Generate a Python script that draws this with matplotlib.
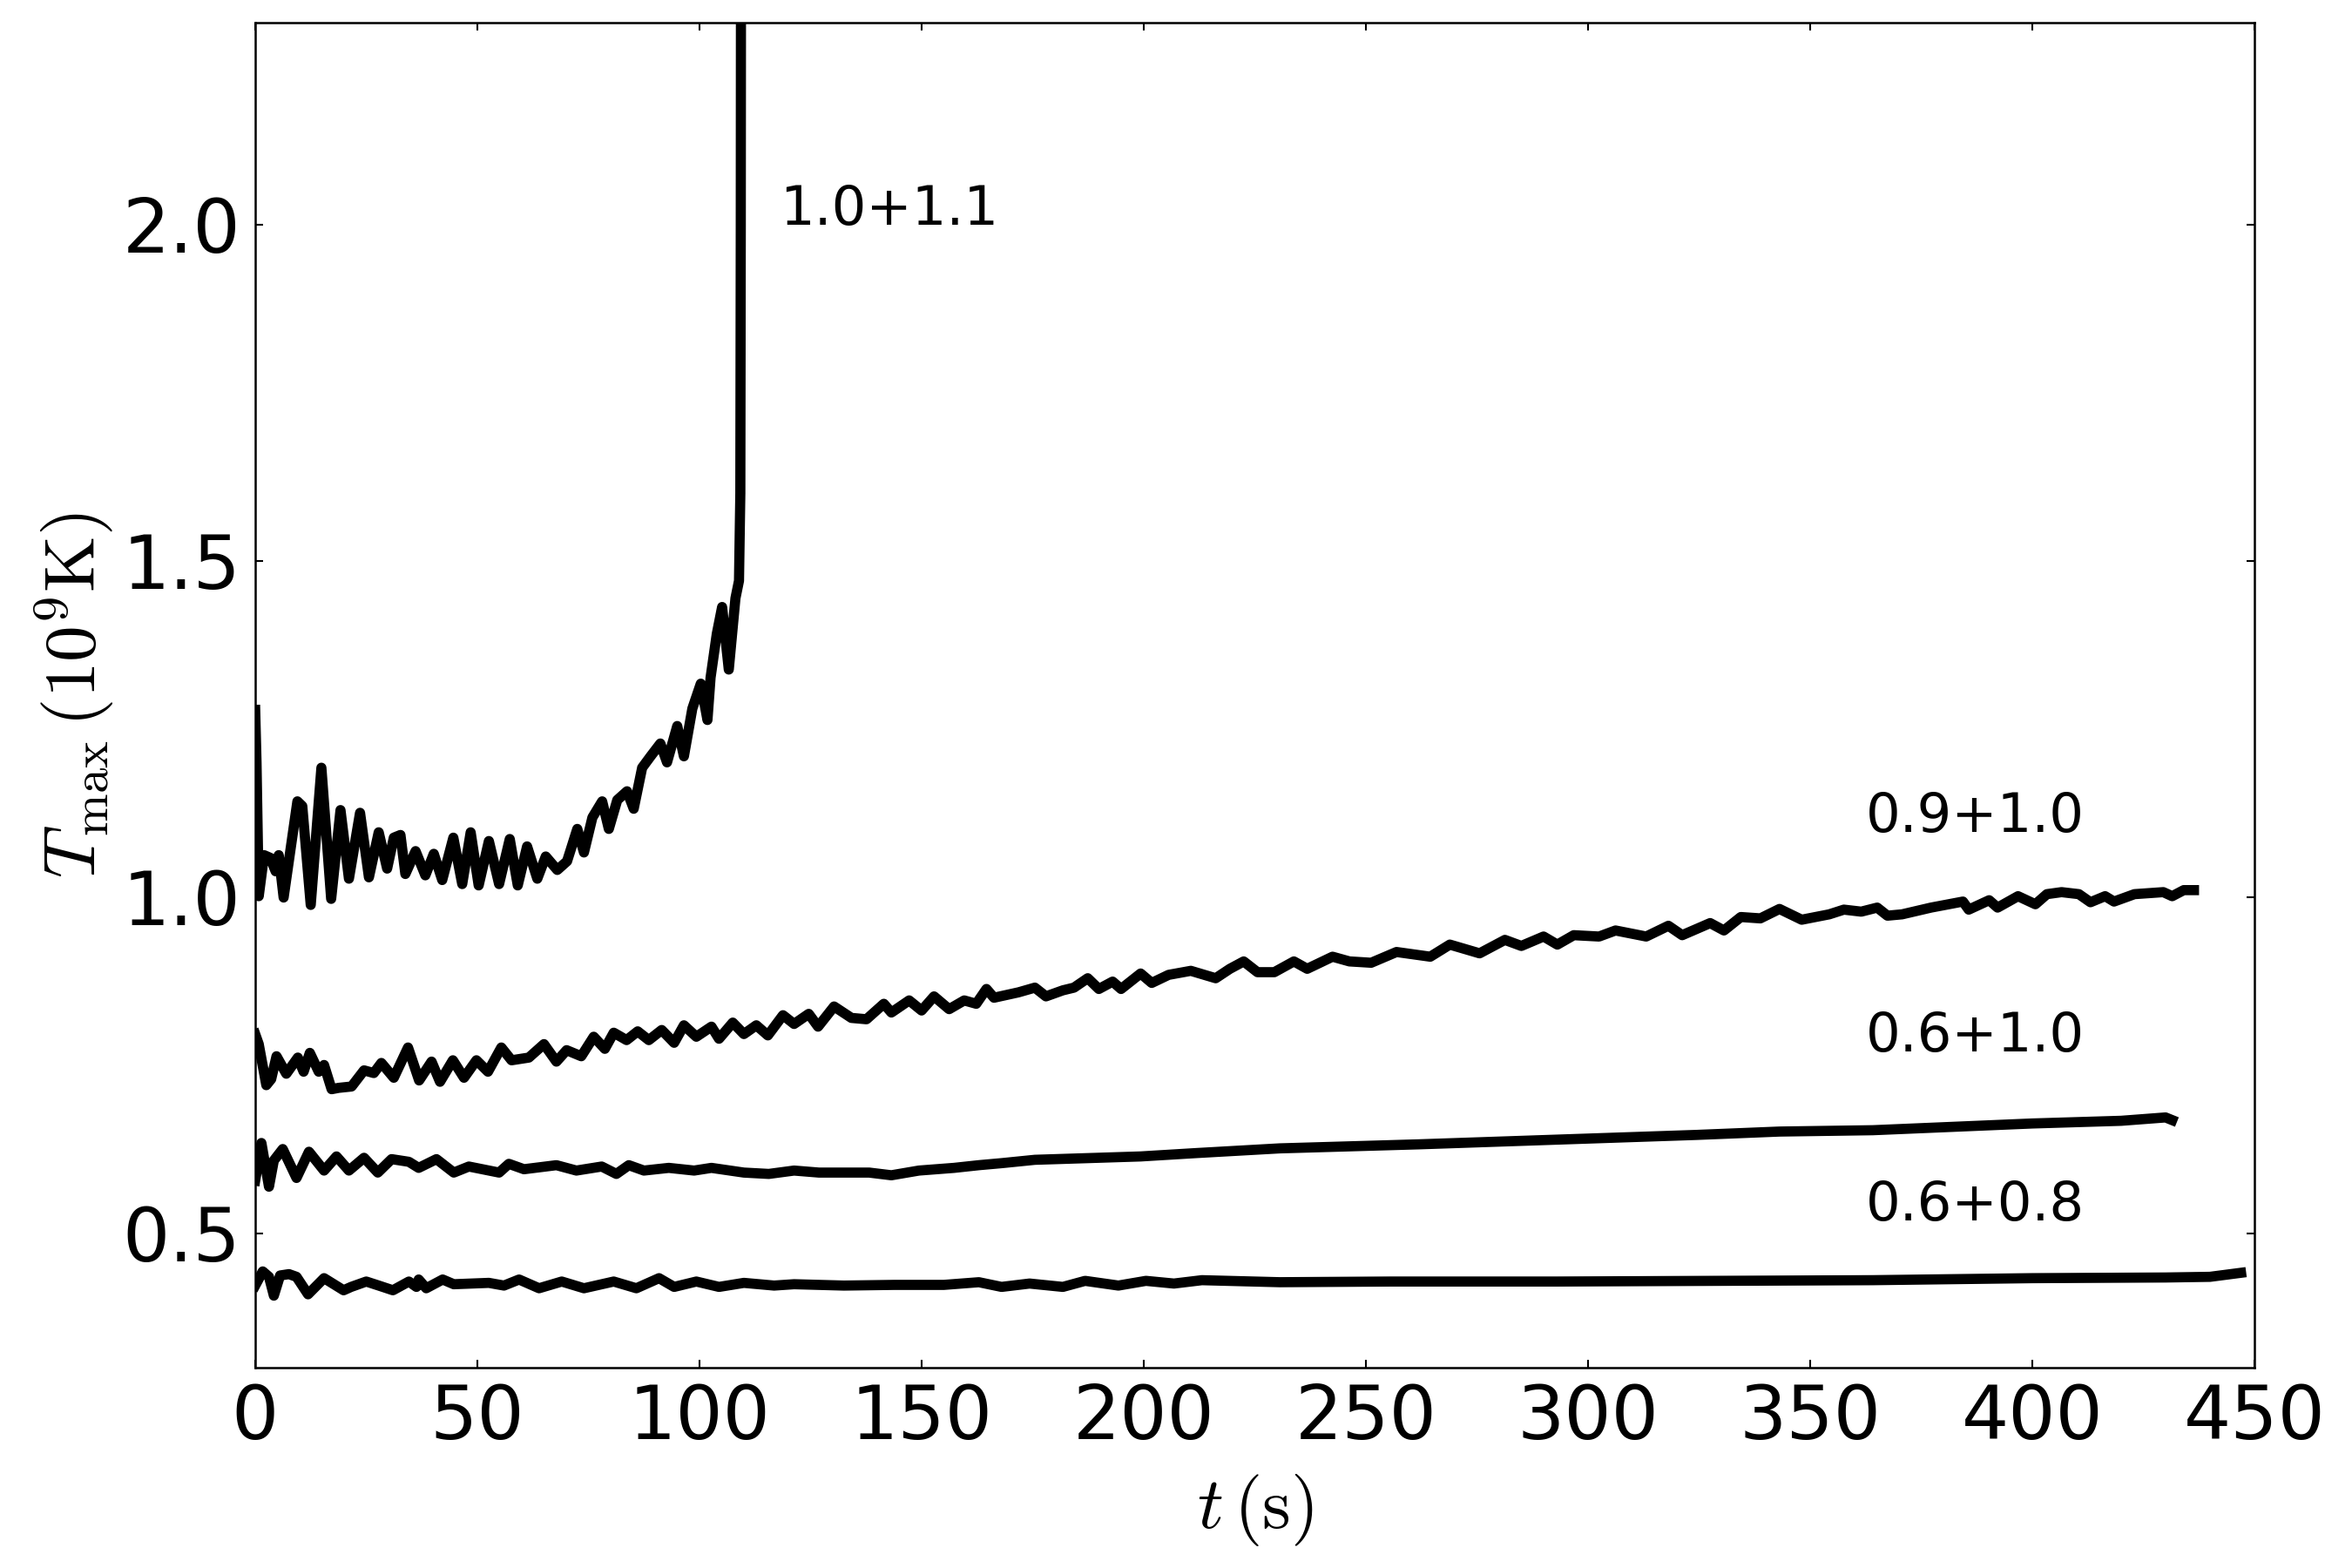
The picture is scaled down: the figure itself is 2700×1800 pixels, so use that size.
import matplotlib
matplotlib.use('Agg')
import matplotlib.pyplot as plt

plt.rcParams['font.family'] = ['DejaVu Sans']
plt.rcParams['mathtext.fontset'] = 'cm'

# T_max (1e9 K) vs t (s)
# 1.0+1.1 : runs away at ~109 s
t_a = [0.0, 0.3, 0.8, 2.0, 3.4, 4.6, 5.3, 6.4, 9.5, 10.6,
       12.5, 14.9, 17.1, 19.2, 21.1, 23.6, 25.6, 27.8, 29.7, 31.2,
       32.7, 33.8, 36.1, 38.3, 40.2, 42.1, 44.6, 46.6, 48.5, 50.3,
       52.6, 54.9, 57.3, 59.1, 61.2, 63.5, 65.4, 68.0, 70.2, 72.5,
       74.0, 75.9, 78.1, 79.6, 81.5, 83.7, 85.2, 87.1, 89.0, 91.2,
       92.7, 95.0, 96.5, 98.4, 100.3, 101.8, 102.5, 103.9, 105.1, 106.6,
       108.1, 108.9, 109.2, 109.3, 109.35]
T_a = [1.278, 1.20, 1.001, 1.062, 1.058, 1.038, 1.062, 0.999, 1.142, 1.135,
       0.988, 1.192, 0.997, 1.129, 1.027, 1.125, 1.029, 1.096, 1.042, 1.088,
       1.092, 1.034, 1.068, 1.032, 1.064, 1.025, 1.088, 1.019, 1.096, 1.017,
       1.083, 1.019, 1.086, 1.017, 1.075, 1.027, 1.060, 1.040, 1.053, 1.101,
       1.066, 1.118, 1.142, 1.101, 1.144, 1.157, 1.131, 1.192, 1.209, 1.228,
       1.200, 1.254, 1.209, 1.280, 1.317, 1.263, 1.326, 1.391, 1.431, 1.338,
       1.444, 1.470, 1.60, 2.00, 2.40]

# 0.9+1.0
t_b = [0, 0.8, 2.5, 3.6, 4.8, 7.0, 9.6, 10.9, 12.3, 14.3,
       15.5, 17.2, 18.8, 21.7, 24.5, 26.7, 28.4, 31.2, 34.4, 36.9,
       39.7, 41.6, 44.5, 47.0, 49.8, 52.4, 55.4, 57.7, 61.6, 65.0,
       67.8, 70.1, 73.4, 76.2, 78.7, 80.7, 83.6, 86.1, 88.6, 91.5,
       94.3, 96.5, 99.3, 102.7, 104.4, 107.5, 110.0, 112.8, 115.4, 118.8,
       121.3, 124.6, 126.7, 130.3, 134.2, 137.6, 141.5, 143.2, 147.2, 150.0,
       152.8, 156.2, 159.6, 162.3, 164.6, 166.3, 171.8, 175.5, 178.0, 181.8,
       184.3, 187.4, 189.9, 193.0, 194.9, 199.3, 201.8, 205.6, 210.6, 216.2,
       219.4, 222.5, 225.6, 229.4, 233.8, 236.8, 242.5, 246.3, 251.2, 256.9,
       264.5, 268.9, 275.6, 281.3, 285.0, 290.0, 293.1, 296.8, 302.5, 306.2,
       313.1, 318.1, 321.2, 327.5, 330.6, 334.4, 338.8, 343.1, 348.1, 354.3,
       357.6, 361.5, 365.1, 367.4, 370.7, 377.2, 384.4, 385.7, 390.3, 392.2,
       396.8, 400.7, 403.3, 406.6, 410.5, 413.1, 416.4, 418.4, 423.0, 429.5,
       431.5, 434.1, 436.4]
T_b = [0.796, 0.781, 0.720, 0.729, 0.763, 0.737, 0.761, 0.740, 0.768, 0.740,
       0.750, 0.714, 0.716, 0.718, 0.742, 0.738, 0.753, 0.731, 0.776, 0.727,
       0.755, 0.725, 0.757, 0.731, 0.757, 0.740, 0.776, 0.757, 0.761, 0.781,
       0.755, 0.772, 0.763, 0.792, 0.774, 0.798, 0.787, 0.800, 0.787, 0.802,
       0.783, 0.809, 0.792, 0.807, 0.789, 0.813, 0.796, 0.809, 0.794, 0.824,
       0.811, 0.826, 0.807, 0.837, 0.820, 0.818, 0.841, 0.828, 0.846, 0.831,
       0.852, 0.833, 0.846, 0.841, 0.863, 0.850, 0.858, 0.865, 0.852, 0.861,
       0.865, 0.879, 0.863, 0.874, 0.863, 0.886, 0.872, 0.884, 0.890, 0.879,
       0.893, 0.904, 0.888, 0.888, 0.904, 0.893, 0.911, 0.904, 0.902, 0.918,
       0.911, 0.929, 0.916, 0.936, 0.927, 0.941, 0.929, 0.943, 0.941, 0.950,
       0.941, 0.957, 0.943, 0.961, 0.950, 0.970, 0.968, 0.982, 0.966, 0.974,
       0.981, 0.978, 0.984, 0.972, 0.974, 0.984, 0.993, 0.981, 0.995, 0.984,
       1.001, 0.989, 1.004, 1.007, 1.004, 0.992, 1.001, 0.993, 1.004, 1.007,
       1.001, 1.010, 1.010]

# 0.6+1.0
t_c = [0, 1.4, 3.1, 4.2, 6.2, 9.3, 12.1, 15.5, 18.3, 21.1,
       24.5, 27.6, 30.7, 34.6, 36.8, 40.8, 44.7, 48.1, 54.9, 57.1,
       60.5, 67.8, 72.3, 78.0, 81.3, 84.1, 87.5, 93.1, 98.8, 102.7,
       110.0, 115.6, 121.3, 126.9, 132.5, 138.2, 143.2, 149.4, 157.3, 162.9,
       168.0, 175.5, 199.3, 211.8, 230.6, 261.9, 293.1, 324.4, 343.1, 364.1,
       400.0, 420.0, 430.0, 431.5]
T_c = [0.578, 0.634, 0.569, 0.608, 0.625, 0.582, 0.621, 0.593, 0.614, 0.593,
       0.612, 0.590, 0.610, 0.606, 0.597, 0.610, 0.590, 0.599, 0.590, 0.603,
       0.595, 0.601, 0.593, 0.599, 0.588, 0.601, 0.593, 0.597, 0.593, 0.597,
       0.590, 0.588, 0.593, 0.590, 0.590, 0.590, 0.586, 0.593, 0.597, 0.601,
       0.604, 0.609, 0.614, 0.619, 0.626, 0.632, 0.639, 0.646, 0.651, 0.653,
       0.663, 0.667, 0.672, 0.668]

# 0.6+0.8
t_d = [0, 1.7, 3.1, 4.2, 5.6, 7.6, 9.3, 11.9, 15.5, 17.7,
       19.9, 21.6, 25.0, 27.8, 31.0, 34.6, 36.3, 36.8, 38.5, 42.2,
       44.7, 52.6, 56.0, 59.4, 63.9, 69.0, 74.0, 80.7, 85.8, 90.9,
       94.3, 99.3, 104.4, 110.0, 116.8, 121.3, 132.5, 143.8, 155.0, 162.9,
       168.0, 174.3, 181.8, 186.8, 194.3, 200.5, 206.8, 213.1, 230.6, 255.6,
       293.1, 364.1, 400.0, 430.0, 440.0, 447.0]
T_d = [0.422, 0.443, 0.435, 0.407, 0.437, 0.439, 0.435, 0.409, 0.433, 0.424,
       0.415, 0.420, 0.428, 0.422, 0.415, 0.428, 0.420, 0.431, 0.418, 0.431,
       0.424, 0.426, 0.422, 0.431, 0.418, 0.428, 0.418, 0.428, 0.418, 0.433,
       0.420, 0.428, 0.420, 0.426, 0.422, 0.424, 0.422, 0.423, 0.423, 0.427,
       0.420, 0.425, 0.420, 0.429, 0.422, 0.429, 0.425, 0.430, 0.427, 0.428,
       0.428, 0.430, 0.433, 0.434, 0.435, 0.441]

labels = ['1.0+1.1', '0.9+1.0', '0.6+1.0', '0.6+0.8']
label_t = [118, 362.5, 362.5, 362.5]
label_T = [2.0, 1.096, 0.770, 0.519]

fig = plt.figure(figsize=(9, 6), dpi=300)
ax = fig.add_axes([0.1085, 0.1278, 0.85, 0.8578])

for t, T in [(t_a, T_a), (t_b, T_b), (t_c, T_c), (t_d, T_d)]:
    ax.plot(t, T, color='black', lw=2.8)

for s, x, y in zip(labels, label_t, label_T):
    ax.text(x, y, s, fontsize=15, ha='left', va='baseline')

ax.set_xlim(0, 450)
ax.set_ylim(0.3, 2.3)
ax.set_xticks(range(0, 451, 50))
ax.set_yticks([0.5, 1.0, 1.5, 2.0])
ax.tick_params(direction='in', top=True, right=True, length=2.2,
               width=0.5, labelsize=20.5, pad=4)
for sp in ax.spines.values():
    sp.set_linewidth(0.6)

ax.set_xlabel(r'$t\,(\rm s)$', fontsize=20, labelpad=5)
ax.set_ylabel(r'$T_{\rm max}\,(10^9{\rm K})$', fontsize=20, labelpad=1.5)

fig.savefig('out.png', dpi=300)
